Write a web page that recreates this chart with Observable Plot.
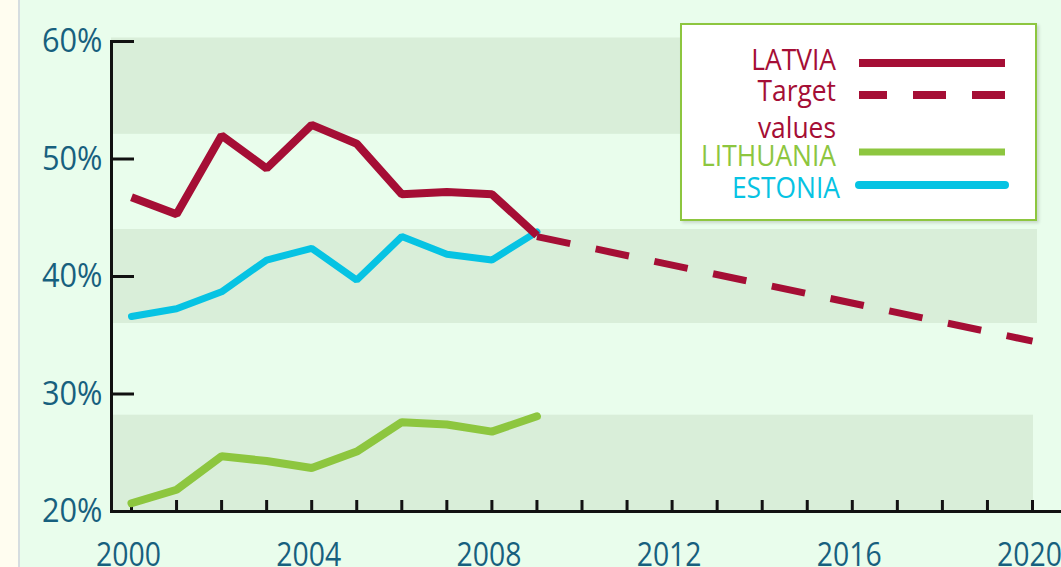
<!DOCTYPE html>
<html>
<head>
<meta charset="utf-8">
<script src="https://cdn.jsdelivr.net/npm/d3@7"></script>
<script src="https://cdn.jsdelivr.net/npm/@observablehq/plot@0.6"></script>
<style>
  html, body { margin: 0; padding: 0; overflow: hidden; }
  #wrap {
    position: relative; width: 1061px; height: 567px; overflow: hidden;
    background: linear-gradient(to right, #fffdf0 0px, #fffdf0 18px, #d6dde0 18px, #d6dde0 20px, #e9fdec 20px);
    font-family: "Open Sans", sans-serif;
  }
  #chart { position: absolute; left: 0; top: 0; }
  #legend {
    position: absolute; left: 680px; top: 23px; width: 353px; height: 194px;
    background: #ffffff; border: 2.5px solid #8dc63f;
    box-shadow: 2px 2px 3px rgba(0,0,0,0.15);
  }
  #legend svg { position: absolute; left: 0; top: 0; }
</style>
</head>
<body>
<div id="wrap">
  <div id="chart"></div>
  <div id="legend"></div>
</div>
<script>
// ---- data ----
const years = [2000, 2001, 2002, 2003, 2004, 2005, 2006, 2007, 2008, 2009];
const latvia = [46.75, 45.3, 52.0, 49.2, 52.9, 51.3, 47.0, 47.2, 47.0, 43.5];
const lithuania = [20.7, 21.85, 24.7, 24.3, 23.7, 25.1, 27.6, 27.4, 26.8, 28.1];
const estonia = [36.6, 37.25, 38.7, 41.4, 42.4, 39.7, 43.4, 41.9, 41.4, 43.8];
const targetYears = [2009, 2020];
const targetValues = [43.4, 34.5];
const bandLow = [52.1, 36.0, 20.0];
const bandHigh = [60.3, 44.0, 28.2];
const yTicks = [20, 30, 40, 50, 60];
const xTicks = [2000, 2001, 2002, 2003, 2004, 2005, 2006, 2007, 2008, 2009, 2010,
                2011, 2012, 2013, 2014, 2015, 2016, 2017, 2018, 2019, 2020];
const xLabels = [2000, 2004, 2008, 2012, 2016, 2020];
const seriesNames = ["LATVIA", "Target values", "LITHUANIA", "ESTONIA"];

// ---- colours ----
const cLatvia = "#a50e35";
const cLith = "#8dc63f";
const cEst = "#06c3e3";
const cLabel = "#17607e";
const cBand = "#d9eed9";
const fontFam = "Open Sans, sans-serif";

const toRows = (xs, ys) => xs.map((x, i) => ({x, y: ys[i]}));
const bands = bandLow.map((lo, i) => ({lo, hi: bandHigh[i], last: i === 2}));

const chart = Plot.plot({
  width: 1061,
  height: 567,
  marginLeft: 111,
  marginRight: 0,
  marginTop: 41,
  marginBottom: 56,
  x: {domain: [2000, 2020], range: [131, 1032]},
  y: {domain: [20, 60], range: [511, 41]},
  style: {background: "transparent", overflow: "visible", fontFamily: fontFam},
  marks: [
    Plot.rect(bands.filter(d => !d.last), {y1: "lo", y2: "hi", fill: cBand, insetRight: 24}),
    Plot.rect(bands.filter(d => d.last), {y1: "lo", y2: "hi", fill: cBand, insetRight: 28}),
    Plot.frame({anchor: "left", stroke: "#111", strokeWidth: 3}),
    Plot.frame({anchor: "bottom", stroke: "#111", strokeWidth: 3}),
    Plot.axisY({ticks: yTicks, tickSize: -23, strokeWidth: 3, stroke: "#111", tickFormat: () => "", label: null}),
    Plot.axisY({ticks: yTicks, tickSize: 0, tickPadding: 9, tickFormat: d => d + "%", label: null,
                fill: cLabel, fontSize: 33, fontFamily: fontFam}),
    Plot.axisX({ticks: xTicks, tickSize: -11, strokeWidth: 3, stroke: "#111", tickFormat: () => "", label: null}),
    Plot.axisX({ticks: xLabels, tickSize: 0, tickPadding: 31, tickFormat: d => String(d), label: null,
                fill: cLabel, fontSize: 33, fontFamily: fontFam, dx: -3}),
    Plot.line(toRows(years, lithuania), {x: "x", y: "y", stroke: cLith, strokeWidth: 8, strokeLinecap: "round", strokeLinejoin: "miter"}),
    Plot.line(toRows(years, estonia), {x: "x", y: "y", stroke: cEst, strokeWidth: 7, strokeLinecap: "round", strokeLinejoin: "miter"}),
    Plot.line(toRows(targetYears, targetValues), {x: "x", y: "y", stroke: cLatvia, strokeWidth: 7, strokeDasharray: "34,26", strokeLinecap: "butt"}),
    Plot.line(toRows(years, latvia), {x: "x", y: "y", stroke: cLatvia, strokeWidth: 8, strokeLinecap: "butt", strokeLinejoin: "miter"})
  ]
});
document.getElementById("chart").appendChild(chart);

// narrow the glyphs (the reference face is condensed)
function squeeze(nodes, factor) {
  nodes.forEach(t => {
    const w = t.getComputedTextLength();
    if (w > 0) {
      t.setAttribute("textLength", (w * factor).toFixed(1));
      t.setAttribute("lengthAdjust", "spacingAndGlyphs");
    }
  });
}
squeeze(chart.querySelectorAll('g[aria-label="y-axis tick label"] text'), 0.93);
squeeze(chart.querySelectorAll('g[aria-label="x-axis tick label"] text'), 0.86);

// ---- legend ----
const leg = d3.select("#legend").append("svg").attr("width", 353).attr("height", 194)
  .style("font-family", fontFam).style("font-size", "29px");
const legItems = [
  {lines: ["LATVIA"], color: cLatvia, base: 45, ly: 38, dash: null, cap: "butt", w: 8},
  {lines: ["Target", "values"], color: cLatvia, base: 76, ly: 70, dash: "33,26", cap: "butt", w: 8},
  {lines: ["LITHUANIA"], color: cLith, base: 141, ly: 127, dash: null, cap: "butt", w: 7},
  {lines: ["ESTONIA"], color: cEst, base: 173, ly: 160, dash: null, cap: "round", w: 8}
];
legItems.forEach((it, k) => {
  it.lines.forEach((t, j) => {
    leg.append("text").attr("x", k === 3 ? 158 : 154).attr("y", it.base + j * 37)
      .attr("text-anchor", "end").attr("fill", it.color).text(t);
  });
  const ln = leg.append("line").attr("x1", 177).attr("x2", 323).attr("y1", it.ly).attr("y2", it.ly)
    .attr("stroke", it.color).attr("stroke-width", it.w).attr("stroke-linecap", it.cap);
  if (it.dash) ln.attr("stroke-dasharray", it.dash).attr("stroke-dashoffset", 5);
});
squeeze(document.querySelectorAll("#legend text"), 0.91);
</script>
</body>
</html>
